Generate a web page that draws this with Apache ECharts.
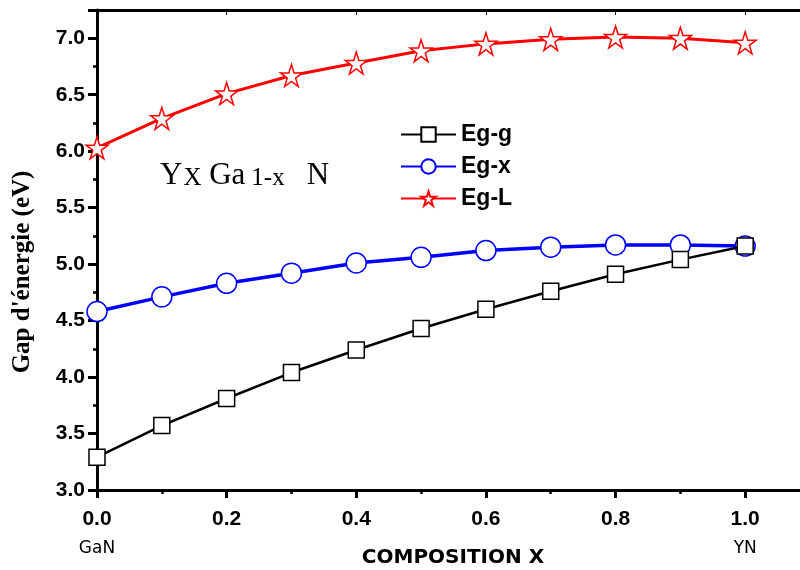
<!DOCTYPE html>
<html>
<head>
<meta charset="utf-8">
<script src="https://cdn.jsdelivr.net/npm/echarts@6/dist/echarts.min.js"></script>
<style>
  html, body { margin: 0; padding: 0; background: #fff; }
  #chart { width: 800px; height: 570px; }
</style>
</head>
<body>
<div id="chart"></div>
<script>
// composition x and the three gaps
var compX = [0.0, 0.1, 0.2, 0.3, 0.4, 0.5, 0.6, 0.7, 0.8, 0.9, 1.0];
var egG = [3.29, 3.57, 3.81, 4.04, 4.24, 4.43, 4.60, 4.76, 4.91, 5.04, 5.16];
var egX = [4.58, 4.71, 4.83, 4.92, 5.01, 5.06, 5.12, 5.15, 5.17, 5.17, 5.16];
var egL = [6.03, 6.29, 6.51, 6.67, 6.78, 6.89, 6.95, 6.99, 7.01, 7.00, 6.96];
var endLabels = { '0': 'GaN', '1': 'YN' };

var star = 'path://M50,0 L61.8,36.2 L100,36.2 L69.1,58.8 L80.9,95.1 L50,72.7 L19.1,95.1 L30.9,58.8 L0,36.2 L38.2,36.2 Z';

function pairs(ys) {
  return compX.map(function (x, i) { return [x, ys[i]]; });
}

var chart = echarts.init(document.getElementById('chart'));
chart.setOption({
  animation: false,
  grid: { left: 97, top: 10, right: -10, bottom: 80, outerBoundsMode: 'none', containLabel: false },
  legend: {
    orient: 'vertical',
    left: 395,
    top: 118,
    itemWidth: 55,
    itemHeight: 18,
    itemGap: 9,
    textStyle: { fontFamily: 'Liberation Sans', fontWeight: 'bold', fontSize: 23, color: '#000' },
    data: ['Eg-g', 'Eg-x', 'Eg-L']
  },
  xAxis: [{
    type: 'value',
    min: 0, max: 1.1, interval: 0.2,
    splitLine: { show: false },
    axisLine: { lineStyle: { color: '#000', width: 3 } },
    axisTick: { length: 8, lineStyle: { width: 3, color: '#000' } },
    minorTick: { show: true, splitNumber: 2, length: 4, lineStyle: { width: 2.5, color: '#000' } },
    axisLabel: {
      margin: 14,
      formatter: function (v) {
        if (v > 1.001) return '';
        var t = v.toFixed(1);
        var n = endLabels[String(Math.round(v))];
        if ((v === 0 || Math.abs(v - 1) < 1e-9) && n) return '{b|' + t + '}\n{n|' + n + '}';
        return '{b|' + t + '}';
      },
      rich: {
        b: { fontFamily: 'Liberation Sans', fontWeight: 'bold', fontSize: 21, color: '#000', lineHeight: 30 },
        n: { fontFamily: 'DejaVu Sans', fontSize: 17, color: '#000', lineHeight: 30 }
      }
    }
  }, {
    type: 'value',
    position: 'top',
    min: 0, max: 1.1, interval: 0.2,
    splitLine: { show: false },
    axisLine: { lineStyle: { color: '#000', width: 3 } },
    axisTick: { inside: true, length: 5, lineStyle: { width: 1, color: '#000' } },
    minorTick: { show: false },
    axisLabel: { show: false }
  }],
  yAxis: {
    type: 'value',
    min: 3, max: 7.25, interval: 0.5,
    splitLine: { show: false },
    axisLine: { lineStyle: { color: '#000', width: 3 } },
    axisTick: { length: 9, lineStyle: { width: 3, color: '#000' } },
    minorTick: { show: true, splitNumber: 2, length: 4, lineStyle: { width: 2.5, color: '#000' } },
    axisLabel: {
      margin: 12,
      showMaxLabel: false,
      fontFamily: 'Liberation Sans', fontWeight: 'bold', fontSize: 21, color: '#000',
      formatter: function (v) { return v > 7.01 ? '' : v.toFixed(1); }
    }
  },
  graphic: [{
    // axis titles placed by hand, as in the original
    type: 'text',
    x: 23,
    y: 272,
    rotation: Math.PI / 2,
    style: {
      text: "Gap d'énergie (eV)",
      fontFamily: 'Liberation Serif', fontWeight: 'bold', fontSize: 25, fill: '#000',
      align: 'center', verticalAlign: 'middle'
    }
  }, {
    type: 'text',
    x: 453,
    y: 558,
    style: {
      text: 'COMPOSITION X',
      fontFamily: 'DejaVu Sans', fontWeight: 'bold', fontSize: 20, fill: '#000',
      align: 'center', verticalAlign: 'middle'
    }
  }, {
    type: 'text',
    left: 160,
    top: 160,
    style: {
      text: '{m|Y}{s|X}{g| Ga}{t|1-x}{n|N}',
      rich: {
        m: { fontFamily: 'Liberation Serif', fontSize: 31, color: '#000', verticalAlign: 'bottom' },
        g: { fontFamily: 'Liberation Serif', fontSize: 31, color: '#000', verticalAlign: 'bottom' },
        n: { fontFamily: 'Liberation Serif', fontSize: 31, color: '#000', verticalAlign: 'bottom', padding: [0, 0, 0, 22] },
        s: { fontFamily: 'Liberation Serif', fontSize: 25, color: '#000', padding: [10, 0, 0, 1], verticalAlign: 'bottom' },
        t: { fontFamily: 'Liberation Serif', fontSize: 25, color: '#000', padding: [10, 0, 0, 6], verticalAlign: 'bottom' }
      }
    }
  }],
  series: [{
    name: 'Eg-g',
    type: 'line',
    data: pairs(egG),
    symbol: 'rect',
    symbolSize: 16,
    lineStyle: { color: '#000', width: 2.5 },
    itemStyle: { color: '#fff', borderColor: '#000', borderWidth: 1.5 },
    z: 3
  }, {
    name: 'Eg-x',
    type: 'line',
    data: pairs(egX),
    symbol: 'circle',
    symbolSize: 20,
    lineStyle: { color: '#0000ff', width: 3.5 },
    itemStyle: { color: '#fff', borderColor: '#0000ff', borderWidth: 1.5 },
    z: 2
  }, {
    name: 'Eg-L',
    type: 'line',
    data: pairs(egL),
    symbol: star,
    symbolSize: 22,
    lineStyle: { color: '#ff0000', width: 3 },
    itemStyle: { color: '#fff', borderColor: '#ff0000', borderWidth: 1.5 },
    z: 2
  }]
});
</script>
</body>
</html>
